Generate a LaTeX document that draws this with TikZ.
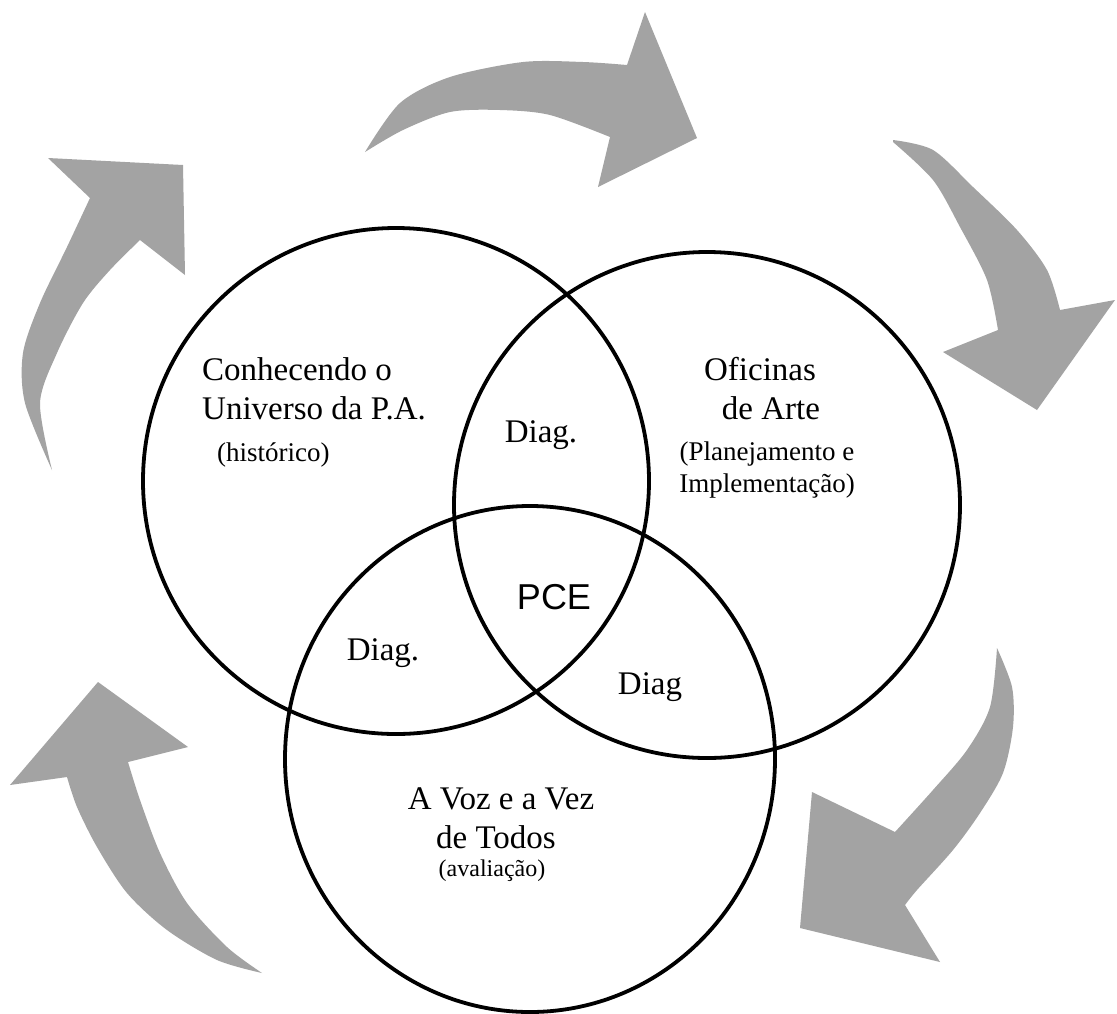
\documentclass[tikz,border=0pt]{standalone}
\usepackage{fontspec}
\setmainfont{Liberation Serif}
\newfontfamily\arialfont{Liberation Sans}
\begin{document}
\begin{tikzpicture}[x=1pt,y=-1pt,
  venn/.style={line width=3.8pt, draw=black},
  bigarrow/.style={fill=black!36, draw=none},
  lbl/.style={inner sep=0pt, font=\fontsize{33}{40}\selectfont},
  sublbl/.style={inner sep=0pt, font=\fontsize{27}{32}\selectfont},
  smalllbl/.style={inner sep=0pt, font=\fontsize{24}{28}\selectfont},
]
\useasboundingbox[fill=white] (0,0) rectangle (1117,1013);

% curved block arrows
\fill[bigarrow] plot[smooth] coordinates {(365,152) (400,103) (450,77) (523,62) (583,62) (627,65)}
  -- (645,12) -- (697,138) -- (598,187) --
  plot[smooth] coordinates {(610,137) (550,115) (500,110) (450,112) (403,130) (365,152)} -- cycle;

\fill[bigarrow] plot[smooth] coordinates {(893,140) (933,150) (973,187) (1017,230) (1047,270) (1060,310)}
  -- (1115,300) -- (1037,410) -- (943,352) --
  plot[smooth] coordinates {(998,330) (987,280) (960,227) (933,180) (893,142)} -- cycle;

\fill[bigarrow] plot[smooth] coordinates {(997,648) (1012,687) (1013,727) (1003,773) (980,813) (953,850) (917,890) (905,905)}
  -- (940,962) -- (800,928) -- (812,792) --
  plot[smooth] coordinates {(895,832) (933,790) (967,750) (990,707) (997,648)} -- cycle;

\fill[bigarrow] (98,682) -- (188,747) --
  plot[smooth] coordinates {(128,762) (140,800) (160,853) (187,903) (227,947) (262,973)} --
  plot[smooth] coordinates {(262,973) (217,960) (167,930) (127,893) (97,847) (77,807) (67,777)}
  -- (10,785) -- cycle;

\fill[bigarrow] plot[smooth] coordinates {(52,470) (25,403) (23,353) (40,303) (67,247) (90,198)}
  -- (48,158) -- (183,165) -- (185,275) --
  plot[smooth] coordinates {(140,240) (110,270) (83,303) (57,353) (40,403) (52,470)} -- cycle;

% Venn circles
\draw[venn] (396,481) circle [radius=253];
\draw[venn] (707,505) circle [radius=253];
\draw[venn] (530,759) ellipse [x radius=245, y radius=253];

% labels
\node[lbl, anchor=base west] (c1a) at (202,380) {Conhecendo o};
\node[lbl, anchor=base west] (c1b) at (202,419) {Universo da P.A.};
\node[sublbl, anchor=base west] (c1c) at (217,461) {(histórico)};

\node[lbl, anchor=base] (c2a) at (760,380) {Oficinas};
\node[lbl, anchor=base] (c2b) at (771,419) {de Arte};
\node[sublbl, anchor=base] (c2c) at (767,460) {(Planejamento e};
\node[sublbl, anchor=base] (c2d) at (767,492) {Implementação)};

\node[lbl, anchor=base] (c3a) at (501,809) {A Voz e a Vez};
\node[lbl, anchor=base] (c3b) at (496,848) {de Todos};
\node[smalllbl, anchor=base] (c3c) at (492,876) {(avaliação)};

\node[lbl, anchor=base] (d12) at (541,442) {Diag.};
\node[lbl, anchor=base] (d13) at (383,660) {Diag.};
\node[lbl, anchor=base] (d23) at (650,694) {Diag};

\node[inner sep=0pt, anchor=base, font=\arialfont\fontsize{36}{40}\selectfont] (pce) at (554,609) {PCE};
\end{tikzpicture}
\end{document}
